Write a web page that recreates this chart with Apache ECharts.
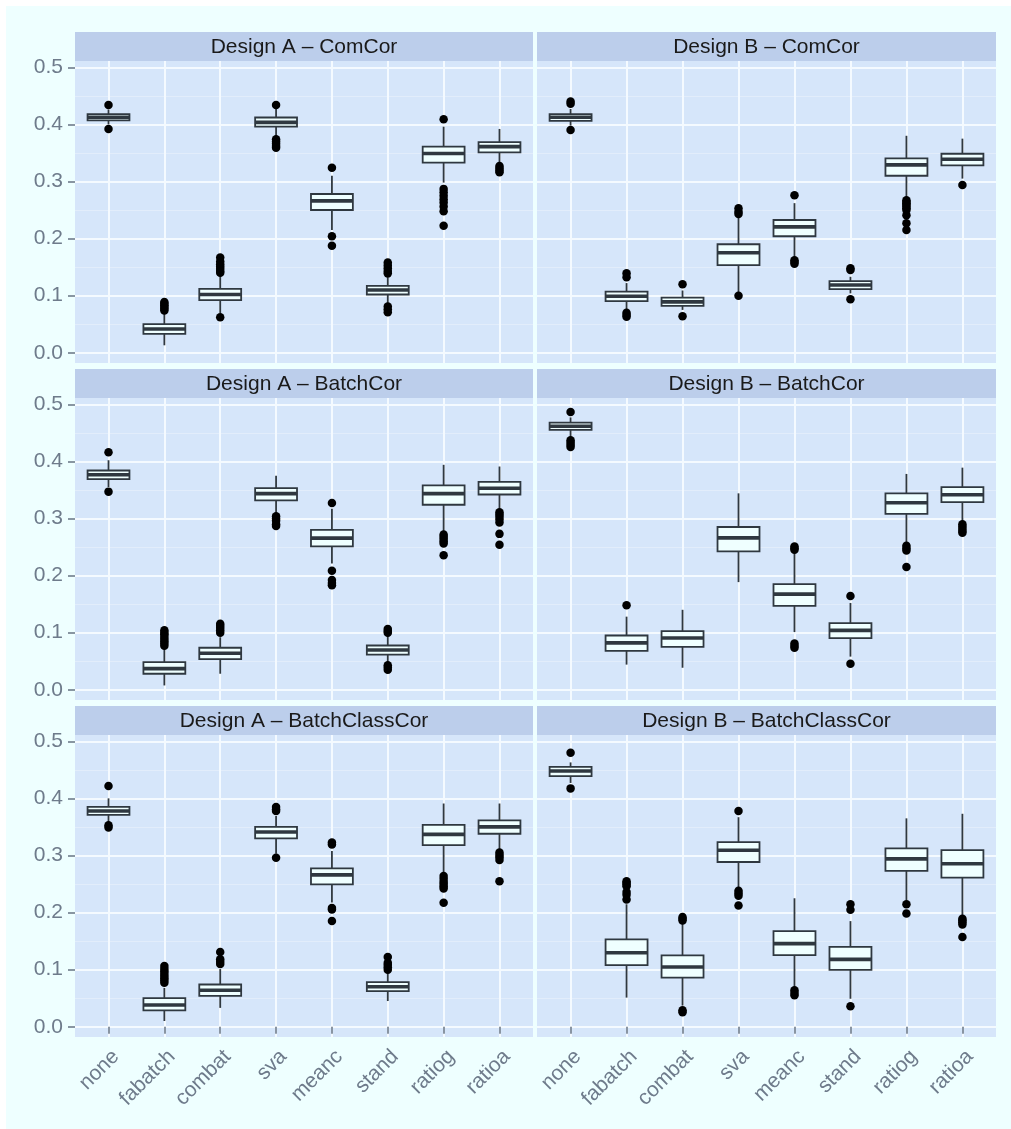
<!DOCTYPE html>
<html>
<head>
<meta charset="utf-8">
<script src="https://cdn.jsdelivr.net/npm/echarts@6/dist/echarts.min.js"></script>
<style>
html,body{margin:0;padding:0;background:#ffffff;}
#chart{width:1011px;height:1129px;}
</style>
</head>
<body>
<div id="chart"></div>
<script>
// ---------------- data ----------------
const categories = ['none', 'fabatch', 'combat', 'sva', 'meanc', 'stand', 'ratiog', 'ratioa'];
const facetTitles = ['Design A – ComCor', 'Design B – ComCor',
                     'Design A – BatchCor', 'Design B – BatchCor',
                     'Design A – BatchClassCor', 'Design B – BatchClassCor'];
const yTickValues = [0.0, 0.1, 0.2, 0.3, 0.4, 0.5];

// each row: [lower whisker, Q1, median, Q3, upper whisker]
const boxA_ComCor = [
  [0.400, 0.407, 0.4125, 0.418, 0.426],
  [0.013, 0.033, 0.0415, 0.050, 0.068],
  [0.069, 0.092, 0.102, 0.112, 0.135],
  [0.378, 0.396, 0.4035, 0.412, 0.428],
  [0.215, 0.250, 0.266, 0.278, 0.310],
  [0.087, 0.102, 0.110, 0.117, 0.133],
  [0.298, 0.333, 0.349, 0.361, 0.396],
  [0.332, 0.351, 0.361, 0.369, 0.392]
];
const outA_ComCor = [
  [0.434, 0.392],
  [0.089, 0.086, 0.083, 0.080, 0.077, 0.074],
  [0.167, 0.160, 0.155, 0.151, 0.147, 0.143, 0.140, 0.062],
  [0.434, 0.374, 0.370, 0.366, 0.362, 0.359],
  [0.324, 0.204, 0.1875],
  [0.158, 0.153, 0.148, 0.143, 0.139, 0.081, 0.076, 0.071],
  [0.409, 0.287, 0.281, 0.275, 0.269, 0.263, 0.256, 0.248, 0.2225],
  [0.327, 0.323, 0.319, 0.316]
];

const boxB_ComCor = [
  [0.398, 0.406, 0.4125, 0.418, 0.427],
  [0.075, 0.0905, 0.099, 0.107, 0.122],
  [0.075, 0.082, 0.089, 0.0965, 0.109],
  [0.106, 0.1535, 0.175, 0.190, 0.238],
  [0.165, 0.204, 0.2205, 0.2325, 0.262],
  [0.104, 0.1115, 0.1185, 0.1255, 0.133],
  [0.270, 0.310, 0.329, 0.3405, 0.380],
  [0.305, 0.328, 0.339, 0.3485, 0.375]
];
const outB_ComCor = [
  [0.440, 0.436, 0.390],
  [0.139, 0.132, 0.070, 0.066, 0.063],
  [0.120, 0.064],
  [0.253, 0.247, 0.243, 0.100],
  [0.276, 0.162, 0.159, 0.156],
  [0.148, 0.145, 0.0935],
  [0.267, 0.264, 0.262, 0.259, 0.256, 0.253, 0.250, 0.241, 0.227, 0.215],
  [0.294]
];

const boxA_BatchCor = [
  [0.355, 0.369, 0.3765, 0.384, 0.402],
  [0.0075, 0.028, 0.037, 0.0485, 0.072],
  [0.028, 0.0535, 0.064, 0.0735, 0.092],
  [0.308, 0.3315, 0.3435, 0.353, 0.375],
  [0.221, 0.251, 0.2655, 0.280, 0.317],
  [0.047, 0.0615, 0.0695, 0.0775, 0.095],
  [0.276, 0.324, 0.3435, 0.358, 0.394],
  [0.317, 0.342, 0.353, 0.364, 0.391]
];
const outA_BatchCor = [
  [0.416, 0.347],
  [0.104, 0.100, 0.097, 0.093, 0.089, 0.085, 0.081, 0.077],
  [0.1155, 0.112, 0.108, 0.104, 0.100],
  [0.304, 0.300, 0.296, 0.290, 0.287],
  [0.327, 0.2085, 0.192, 0.187, 0.183],
  [0.1065, 0.103, 0.100, 0.043, 0.039, 0.035],
  [0.272, 0.268, 0.264, 0.260, 0.256, 0.2355],
  [0.311, 0.307, 0.303, 0.298, 0.293, 0.273, 0.254]
];

const boxB_BatchCor = [
  [0.4425, 0.455, 0.4615, 0.468, 0.477],
  [0.044, 0.068, 0.082, 0.095, 0.128],
  [0.0385, 0.075, 0.0905, 0.1025, 0.140],
  [0.1885, 0.2425, 0.266, 0.285, 0.344],
  [0.101, 0.147, 0.1675, 0.185, 0.241],
  [0.058, 0.0905, 0.104, 0.1165, 0.152],
  [0.2585, 0.308, 0.3275, 0.344, 0.378],
  [0.2935, 0.3285, 0.3415, 0.355, 0.389]
];
const outB_BatchCor = [
  [0.4865, 0.437, 0.433, 0.429, 0.425],
  [0.148],
  [],
  [],
  [0.251, 0.248, 0.245, 0.081, 0.077, 0.0735],
  [0.164, 0.0455],
  [0.252, 0.248, 0.244, 0.215],
  [0.290, 0.286, 0.282, 0.278, 0.275]
];

const boxA_BatchClassCor = [
  [0.357, 0.371, 0.378, 0.385, 0.400],
  [0.010, 0.0285, 0.038, 0.050, 0.068],
  [0.033, 0.054, 0.064, 0.074, 0.101],
  [0.303, 0.330, 0.341, 0.350, 0.369],
  [0.2175, 0.2495, 0.266, 0.2775, 0.308],
  [0.045, 0.0625, 0.070, 0.078, 0.094],
  [0.267, 0.318, 0.337, 0.3535, 0.391],
  [0.308, 0.338, 0.350, 0.3615, 0.391]
];
const outA_BatchClassCor = [
  [0.4215, 0.353, 0.349],
  [0.1065, 0.101, 0.097, 0.093, 0.089, 0.085, 0.081, 0.077],
  [0.131, 0.118, 0.114, 0.110],
  [0.385, 0.381, 0.378, 0.296],
  [0.3225, 0.319, 0.208, 0.2055, 0.185],
  [0.122, 0.112, 0.108, 0.104, 0.100],
  [0.264, 0.259, 0.254, 0.250, 0.246, 0.242, 0.217],
  [0.305, 0.301, 0.297, 0.292, 0.255]
];

const boxB_BatchClassCor = [
  [0.427, 0.439, 0.448, 0.455, 0.463],
  [0.051, 0.108, 0.1295, 0.153, 0.2145],
  [0.037, 0.086, 0.1045, 0.125, 0.182],
  [0.2435, 0.2885, 0.309, 0.3235, 0.367],
  [0.068, 0.1255, 0.1455, 0.1675, 0.225],
  [0.049, 0.0995, 0.118, 0.140, 0.185],
  [0.221, 0.273, 0.294, 0.3125, 0.365],
  [0.194, 0.261, 0.2855, 0.3095, 0.373]
];
const outB_BatchClassCor = [
  [0.480, 0.4175],
  [0.255, 0.252, 0.249, 0.246, 0.236, 0.231, 0.223],
  [0.192, 0.189, 0.186, 0.029, 0.0255],
  [0.378, 0.238, 0.234, 0.2295, 0.2125],
  [0.064, 0.059, 0.055],
  [0.2145, 0.205, 0.036],
  [0.2145, 0.1985],
  [0.189, 0.186, 0.183, 0.179, 0.157]
];

// ---------------- style / layout ----------------
const FONT = '"Liberation Sans", Arial, Helvetica, sans-serif';
const PAGE_BG = '#EEFFFF';
const PANEL_BG = '#D6E6FA';
const STRIP_BG = '#BCCEEB';
const GRID_MAJOR = '#F4FAFF';
const GRID_MINOR = '#E2EDFB';
const AXIS_TEXT = '#6E7B8B';
const BOX_LINE = '#2F3840';
const BOX_FILL = '#EFFFFF';

const COL_LEFT = [75, 537];
const COL_RIGHT = [533, 996];
const STRIP_TOP = [32, 369, 706];
const STRIP_H = 29;
const PANEL_H = 302;
const Y_MIN = -0.018, Y_MAX = 0.511;
const X_PAD = 0.6; // discrete axis expansion (units)

const panelBoxes = [boxA_ComCor, boxB_ComCor, boxA_BatchCor, boxB_BatchCor, boxA_BatchClassCor, boxB_BatchClassCor];
const panelOutliers = [outA_ComCor, outB_ComCor, outA_BatchCor, outB_BatchCor, outA_BatchClassCor, outB_BatchClassCor];

const grids = [], xAxes = [], yAxes = [], series = [], graphics = [];

graphics.push({ type: 'rect', z: -100, shape: { x: 6, y: 6, width: 1005, height: 1123 }, style: { fill: PAGE_BG } });

function renderBox(params, api) {
  const x = api.value(0);
  const pLo = api.coord([x, api.value(1)]);
  const pQ1 = api.coord([x, api.value(2)]);
  const pMed = api.coord([x, api.value(3)]);
  const pQ3 = api.coord([x, api.value(4)]);
  const pHi = api.coord([x, api.value(5)]);
  const bw = api.size([1, 0])[0] * 0.75;
  const cx = pMed[0];
  const lineStyle = { stroke: BOX_LINE, lineWidth: 1.8, fill: null };
  return {
    type: 'group',
    children: [
      { type: 'line', shape: { x1: cx, y1: pHi[1], x2: cx, y2: pQ3[1] }, style: lineStyle },
      { type: 'line', shape: { x1: cx, y1: pQ1[1], x2: cx, y2: pLo[1] }, style: lineStyle },
      { type: 'rect', shape: { x: cx - bw / 2, y: pQ3[1], width: bw, height: pQ1[1] - pQ3[1] },
        style: { fill: BOX_FILL, stroke: BOX_LINE, lineWidth: 1.8 } },
      { type: 'line', shape: { x1: cx - bw / 2, y1: pMed[1], x2: cx + bw / 2, y2: pMed[1] },
        style: { stroke: BOX_LINE, lineWidth: 3.6 } }
    ]
  };
}

for (let k = 0; k < 6; k++) {
  const row = Math.floor(k / 2), col = k % 2;
  const pl = COL_LEFT[col], pr = COL_RIGHT[col], pw = pr - pl;
  const st = STRIP_TOP[row], pt = st + STRIP_H;
  const u = pw / (categories.length - 1 + 2 * X_PAD);
  const pxPerUnit = PANEL_H / (Y_MAX - Y_MIN);
  const isBottom = row === 2, isLeft = col === 0;

  // panel background + strip
  graphics.push({ type: 'rect', z: -50, shape: { x: pl, y: pt, width: pw, height: PANEL_H }, style: { fill: PANEL_BG } });
  graphics.push({ type: 'rect', z: -50, shape: { x: pl, y: st, width: pw, height: STRIP_H }, style: { fill: STRIP_BG } });
  graphics.push({ type: 'text', z: 10, x: pl + pw / 2, y: st + STRIP_H / 2 + 1,
    style: { text: facetTitles[k], fill: '#1A1A1A', font: '21px ' + FONT, textAlign: 'center', textVerticalAlign: 'middle' } });

  // label grid (horizontal gridlines + y ticks), spans 0..0.5 exactly
  const gi = grids.length;
  grids.push({ left: pl, width: pw, top: pt + (Y_MAX - 0.5) * pxPerUnit, height: 0.5 * pxPerUnit, containLabel: false });
  xAxes.push({ gridIndex: gi, type: 'value', show: false, min: 0, max: 1 });
  yAxes.push({
    gridIndex: gi, type: 'value', min: yTickValues[0], max: yTickValues[yTickValues.length - 1], interval: 0.1,
    axisLine: { show: false },
    axisTick: { show: isLeft, length: 7, lineStyle: { color: AXIS_TEXT, width: 1.6 } },
    axisLabel: { show: isLeft, fontSize: 21, fontFamily: FONT, color: AXIS_TEXT, margin: 12,
      formatter: v => v.toFixed(1) },
    splitLine: { show: true, lineStyle: { color: GRID_MAJOR, width: 2 } },
    minorTick: { show: false, splitNumber: 2 },
    minorSplitLine: { show: true, lineStyle: { color: GRID_MINOR, width: 1.2 } }
  });

  // data grid
  const gd = grids.length;
  grids.push({ left: pl + X_PAD * u, width: (categories.length - 1) * u, top: pt, height: PANEL_H, containLabel: false });
  xAxes.push({
    gridIndex: gd, type: 'category', data: categories, boundaryGap: false,
    axisLine: { show: false },
    axisTick: { show: isBottom, length: 7, lineStyle: { color: AXIS_TEXT, width: 1.6 } },
    axisLabel: { show: isBottom, interval: 0, rotate: 45, fontSize: 21, fontFamily: FONT, color: AXIS_TEXT,
      margin: 9, align: 'right', verticalAlign: 'top' },
    splitLine: { show: true, interval: 0, lineStyle: { color: GRID_MAJOR, width: 2 } }
  });
  yAxes.push({ gridIndex: gd, type: 'value', min: Y_MIN, max: Y_MAX, show: false, splitLine: { show: false } });

  series.push({
    type: 'custom', xAxisIndex: gd, yAxisIndex: gd, z: 3,
    renderItem: renderBox,
    encode: { x: 0, y: [1, 2, 3, 4, 5] },
    data: panelBoxes[k].map((b, i) => [i].concat(b)),
    silent: true
  });
  const pts = [];
  panelOutliers[k].forEach((arr, i) => arr.forEach(v => pts.push([i, v])));
  series.push({
    type: 'scatter', xAxisIndex: gd, yAxisIndex: gd, z: 4, clip: false,
    symbol: 'circle', symbolSize: 8.5, itemStyle: { color: '#000000', opacity: 1 },
    data: pts, silent: true
  });
}

const chart = echarts.init(document.getElementById('chart'), null, { renderer: 'canvas' });
chart.setOption({
  animation: false,
  backgroundColor: 'transparent',
  textStyle: { fontFamily: FONT },
  grid: grids,
  xAxis: xAxes,
  yAxis: yAxes,
  series: series,
  graphic: { elements: graphics }
});
</script>
</body>
</html>
